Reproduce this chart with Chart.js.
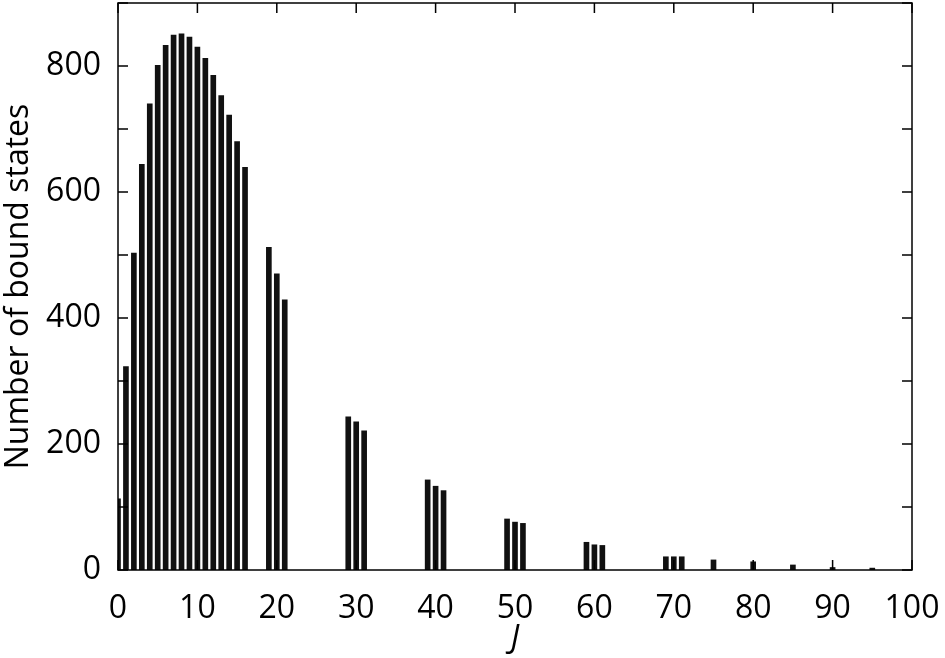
<!DOCTYPE html>
<html>
<head>
<meta charset="utf-8">
<script src="https://cdn.jsdelivr.net/npm/chart.js@4.4.0/dist/chart.umd.min.js"></script>
<style>
  body { margin: 0; background: #fff; }
</style>
</head>
<body>
<canvas id="boundStates" width="945" height="658"></canvas>
<script>
// values
const J = [0, 1, 2, 3, 4, 5, 6, 7, 8, 9, 10, 11, 12, 13, 14, 15, 16,
  19, 20, 21, 29, 30, 31, 39, 40, 41, 49, 50, 51, 59, 60, 61, 69, 70, 71,
  75, 80, 85, 90, 95];
const boundStates = [113, 323, 503, 644, 740, 801, 833, 849, 851, 846, 830, 812, 785, 753, 722, 680, 639,
  512, 470, 429, 243, 235, 221, 143, 133, 126, 81, 76, 74, 44, 40, 39, 21, 21, 21,
  16, 13, 8, 4, 3];
const xTicks = [0, 10, 20, 30, 40, 50, 60, 70, 80, 90, 100];
const yTicks = [0, 200, 400, 600, 800];

const font = "'Open Sans', sans-serif";

// box round the plot plus inward tick marks, like the original figure
const frameTicks = {
  id: 'frameTicks',
  afterDatasetsDraw(chart) {
    const { ctx, chartArea: a, scales: { x, y } } = chart;
    ctx.save();
    ctx.strokeStyle = '#000';
    ctx.lineWidth = 1.5;
    ctx.strokeRect(a.left, a.top, a.right - a.left, a.bottom - a.top);
    ctx.beginPath();
    x.ticks.forEach(t => {
      const px = x.getPixelForValue(t.value);
      ctx.moveTo(px, a.bottom); ctx.lineTo(px, a.bottom - 10);
      ctx.moveTo(px, a.top); ctx.lineTo(px, a.top + 10);
    });
    y.ticks.forEach(t => {
      const py = y.getPixelForValue(t.value);
      ctx.moveTo(a.left, py); ctx.lineTo(a.left + 10, py);
      ctx.moveTo(a.right, py); ctx.lineTo(a.right - 10, py);
    });
    ctx.stroke();
    ctx.restore();
  }
};

const boundStatesChart = new Chart(document.getElementById('boundStates'), {
  type: 'bar',
  data: {
    datasets: [{
      data: J.map((j, i) => ({ x: j, y: boundStates[i] })),
      backgroundColor: '#111',
      borderWidth: 0,
      barThickness: 5
    }]
  },
  options: {
    responsive: false,
    animation: false,
    layout: { padding: { top: 3, right: 33, left: 0, bottom: 0 } },
    plugins: { legend: { display: false }, tooltip: { enabled: false } },
    scales: {
      x: {
        type: 'linear',
        min: 0,
        max: 100,
        offset: false,
        grid: { display: false },
        border: { display: false },
        afterBuildTicks: s => { s.ticks = xTicks.map(v => ({ value: v })); },
        afterFit: s => { s.height = 88; s.paddingLeft = 0; s.paddingRight = 0; },
        ticks: { color: '#000', padding: 12, maxRotation: 0, font: { family: font, size: 32 } },
        title: {
          display: true,
          text: 'J',
          color: '#000',
          padding: 0,
          font: { family: font, size: 32, style: 'italic' }
        }
      },
      y: {
        min: 0,
        max: 900,
        grid: { display: false, drawTicks: false },
        border: { display: false },
        ticks: {
          stepSize: 100,
          color: '#000',
          padding: 17,
          font: { family: font, size: 32 },
          callback: v => yTicks.includes(v) ? v : ''
        },
        afterFit: s => { s.width = 118; s.paddingTop = 0; s.paddingBottom = 0; },
        title: {
          display: true,
          text: 'Number of bound states',
          color: '#000',
          padding: 0,
          font: { family: font, size: 32 }
        }
      }
    }
  },
  plugins: [frameTicks]
});
</script>
</body>
</html>
